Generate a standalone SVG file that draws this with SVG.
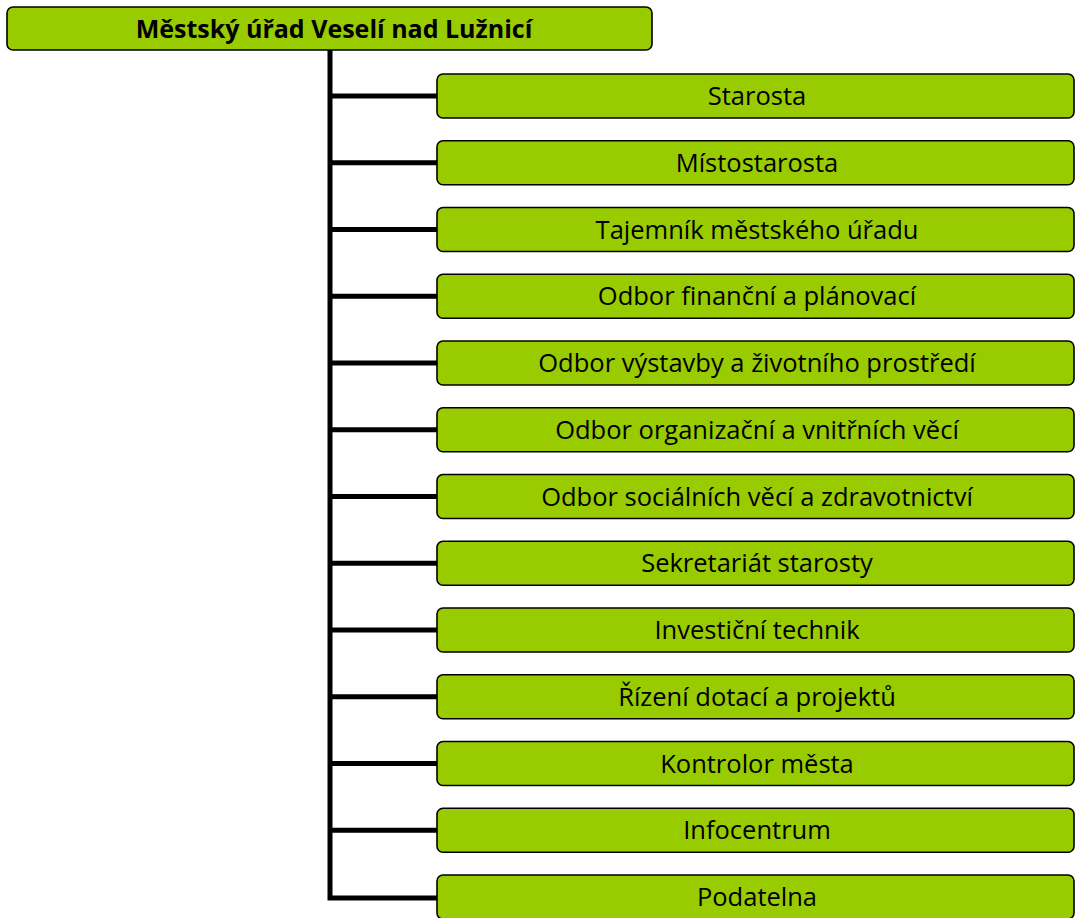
<svg xmlns="http://www.w3.org/2000/svg" width="1076" height="918" viewBox="0 0 1076 918">
<style>
.box{fill:#99cc00;stroke:#000;stroke-width:1.6}
.t{font-family:"Open Sans","Liberation Sans",Arial,sans-serif;font-size:25.5px;fill:#000;text-anchor:middle}
.title{font-weight:bold;font-size:25px}
.con{stroke:#000;stroke-width:5;fill:none}
</style>
<rect width="1076" height="918" fill="#fff"/>
<g id="connectors">
<path class="con" d="M330 50 V898 H437"/>
<path class="con" d="M330 96 H437 M330 162.75 H437 M330 229.5 H437 M330 296.25 H437 M330 363 H437 M330 429.75 H437 M330 496.5 H437 M330 563.25 H437 M330 630 H437 M330 696.75 H437 M330 763.5 H437 M330 830.25 H437"/>
</g>
<g id="root"><rect class="box" x="7" y="7" width="645" height="43" rx="6"/><text class="t title" x="334" y="38">Městský úřad Veselí nad Lužnicí</text></g>
<g id="n1"><rect class="box" x="437" y="74" width="637" height="44" rx="6"/><text class="t" x="757" y="105">Starosta</text></g>
<g id="n2"><rect class="box" x="437" y="140.75" width="637" height="44" rx="6"/><text class="t" x="757" y="171.75">Místostarosta</text></g>
<g id="n3"><rect class="box" x="437" y="207.5" width="637" height="44" rx="6"/><text class="t" x="757" y="238.5">Tajemník městského úřadu</text></g>
<g id="n4"><rect class="box" x="437" y="274.25" width="637" height="44" rx="6"/><text class="t" x="757" y="305.25">Odbor finanční a plánovací</text></g>
<g id="n5"><rect class="box" x="437" y="341" width="637" height="44" rx="6"/><text class="t" x="757" y="372">Odbor výstavby a životního prostředí</text></g>
<g id="n6"><rect class="box" x="437" y="407.75" width="637" height="44" rx="6"/><text class="t" x="757" y="438.75">Odbor organizační a vnitřních věcí</text></g>
<g id="n7"><rect class="box" x="437" y="474.5" width="637" height="44" rx="6"/><text class="t" x="757" y="505.5">Odbor sociálních věcí a zdravotnictví</text></g>
<g id="n8"><rect class="box" x="437" y="541.25" width="637" height="44" rx="6"/><text class="t" x="757" y="572.25">Sekretariát starosty</text></g>
<g id="n9"><rect class="box" x="437" y="608" width="637" height="44" rx="6"/><text class="t" x="757" y="639">Investiční technik</text></g>
<g id="n10"><rect class="box" x="437" y="674.75" width="637" height="44" rx="6"/><text class="t" x="757" y="705.75">Řízení dotací a projektů</text></g>
<g id="n11"><rect class="box" x="437" y="741.5" width="637" height="44" rx="6"/><text class="t" x="757" y="772.5">Kontrolor města</text></g>
<g id="n12"><rect class="box" x="437" y="808.25" width="637" height="44" rx="6"/><text class="t" x="757" y="839.25">Infocentrum</text></g>
<g id="n13"><rect class="box" x="437" y="875" width="637" height="44" rx="6"/><text class="t" x="757" y="906">Podatelna</text></g>
</svg>
